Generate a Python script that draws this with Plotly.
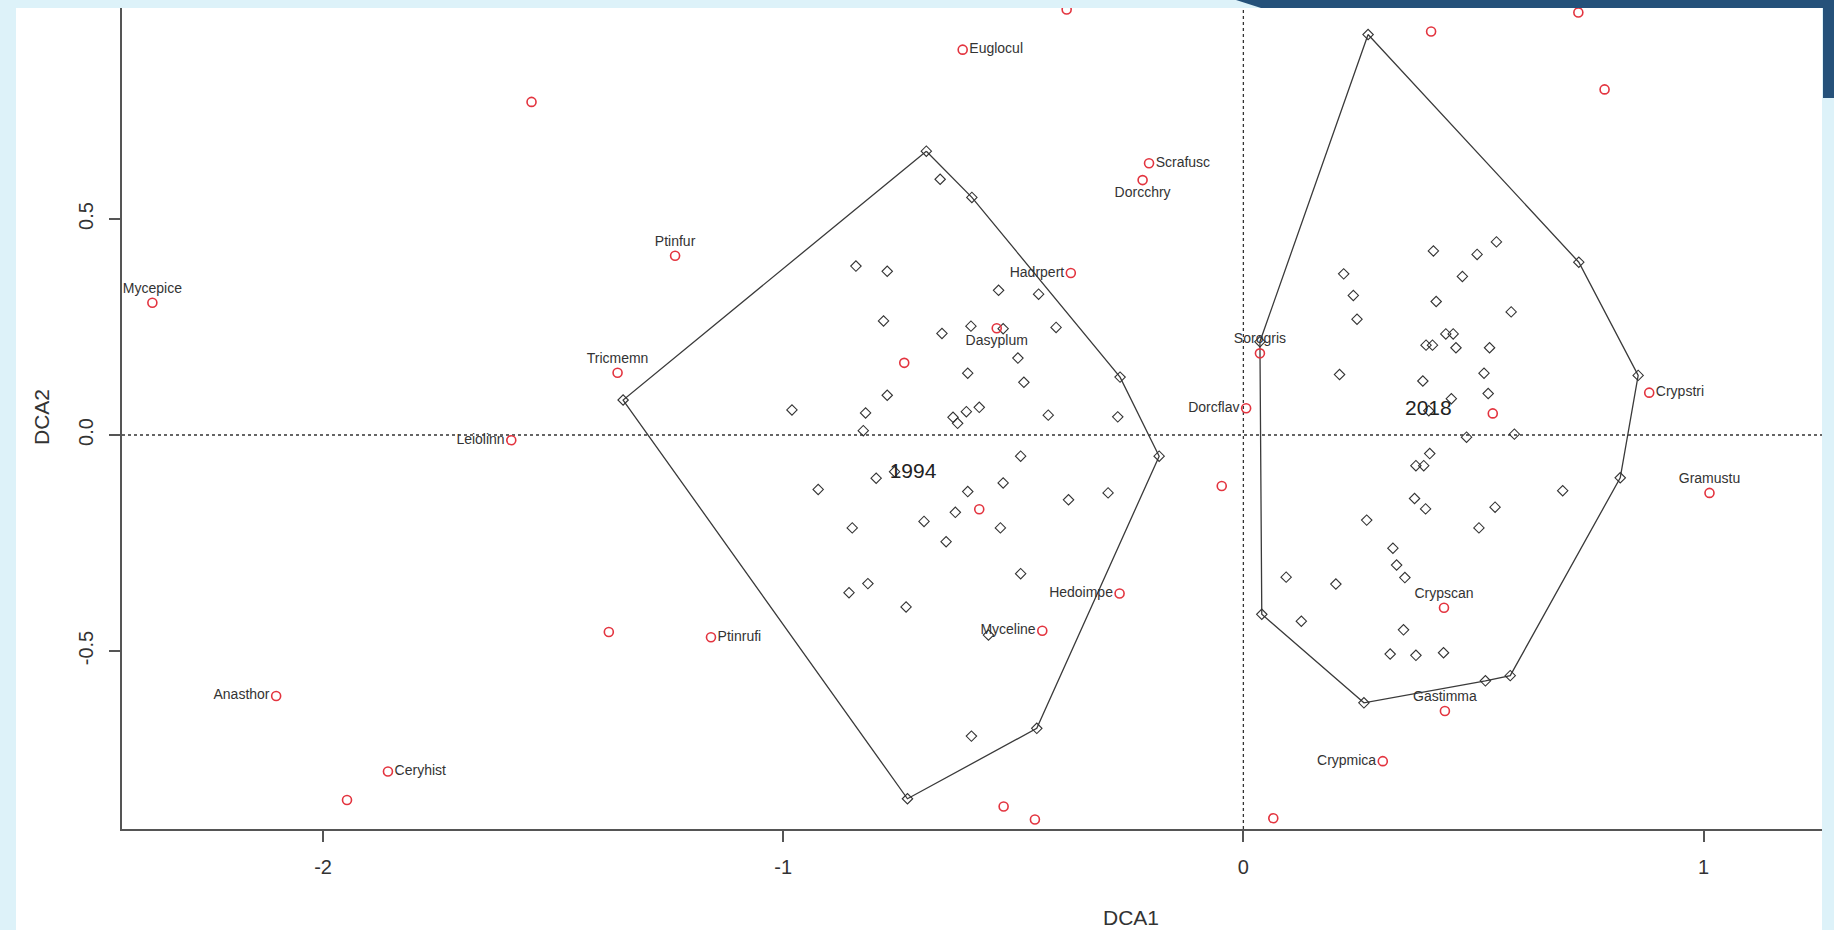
import plotly.graph_objects as go

# ---------------- data ----------------
# species scores (red open circles)
sp_names = ["Mycepice", "", "Tricmemn", "Leiolinn", "Ptinfur", "Euglocul", "", "Scrafusc",
            "Dorcchry", "Hadrpert", "Dasyplum", "", "", "Hedoimpe", "Myceline", "Ptinrufi",
            "", "", "", "Anasthor", "Ceryhist", "", "Sorogris", "Dorcflav", "", "Crypstri",
            "Gramustu", "", "Crypscan", "Gastimma", "Crypmica", "", "", "", "", ""]
sp_x = [-2.371, -1.547, -1.360, -1.591, -1.235, -0.610, -0.384, -0.205,
        -0.219, -0.375, -0.536, -0.737, -0.574, -0.269, -0.437, -1.157,
        -1.379, -0.521, -0.453, -2.102, -1.859, -1.948, 0.036, 0.006, 0.542, 0.882,
        1.013, -0.047, 0.436, 0.438, 0.303, 0.065, 0.411, 0.408, 0.728, 0.785]
sp_y = [0.306, 0.771, 0.144, -0.012, 0.415, 0.892, 0.985, 0.629,
        0.590, 0.375, 0.247, 0.167, -0.172, -0.367, -0.453, -0.468,
        -0.456, -0.860, -0.890, -0.604, -0.779, -0.845, 0.189, 0.062, 0.050, 0.098,
        -0.134, -0.118, -0.400, -0.639, -0.755, -0.887, -0.925, 0.934, 0.978, 0.800]
sp_pos = ["top center", "top center", "top center", "middle left", "top center", "middle right",
          "top center", "middle right", "bottom center", "middle left", "bottom center",
          "top center", "top center", "middle left", "middle left", "middle right",
          "top center", "top center", "top center", "middle left", "middle right", "top center",
          "top center", "middle left", "top center", "middle right", "top center", "top center",
          "top center", "top center", "middle left", "top center", "top center", "top center",
          "top center", "top center"]

# site scores 1994 (black open diamonds)
s94_x = [-0.689, -0.590, -0.268, -0.183, -0.449, -0.730, -1.348,
         -0.659, -0.842, -0.774, -0.532, -0.445, -0.782, -0.592, -0.655, -0.522, -0.407,
         -0.490, -0.599, -0.477, -0.774, -0.981, -0.821, -0.574, -0.602, -0.631, -0.621,
         -0.424, -0.273, -0.826, -0.484, -0.798, -0.758, -0.924, -0.599, -0.522, -0.380,
         -0.294, -0.626, -0.694, -0.850, -0.528, -0.646, -0.484, -0.816, -0.857, -0.733,
         -0.554, -0.591]
s94_y = [0.657, 0.550, 0.134, -0.049, -0.679, -0.842, 0.081,
         0.592, 0.391, 0.379, 0.335, 0.326, 0.264, 0.252, 0.235, 0.246, 0.249,
         0.178, 0.143, 0.122, 0.092, 0.058, 0.051, 0.064, 0.054, 0.041, 0.027,
         0.046, 0.042, 0.010, -0.049, -0.100, -0.085, -0.126, -0.131, -0.111, -0.150,
         -0.134, -0.179, -0.200, -0.215, -0.215, -0.247, -0.321, -0.344, -0.365, -0.398,
         -0.463, -0.697]

# site scores 2018
s18_x = [0.271, 0.729, 0.858, 0.819, 0.580, 0.526, 0.262, 0.040, 0.036,
         0.550, 0.413, 0.508, 0.218, 0.476, 0.239, 0.419, 0.582, 0.247, 0.440, 0.456,
         0.397, 0.411, 0.462, 0.535, 0.209, 0.523, 0.390, 0.532, 0.452, 0.403, 0.485,
         0.589, 0.405, 0.375, 0.392, 0.694, 0.372, 0.396, 0.547, 0.268, 0.512, 0.325,
         0.333, 0.351, 0.093, 0.201, 0.126, 0.348, 0.319, 0.375, 0.435]
s18_y = [0.927, 0.400, 0.138, -0.099, -0.557, -0.569, -0.620, -0.415, 0.216,
         0.447, 0.426, 0.418, 0.373, 0.367, 0.323, 0.309, 0.285, 0.268, 0.234, 0.234,
         0.208, 0.208, 0.202, 0.202, 0.140, 0.143, 0.125, 0.096, 0.084, 0.056, -0.005,
         0.002, -0.043, -0.071, -0.071, -0.129, -0.147, -0.171, -0.167, -0.197, -0.215, -0.262,
         -0.301, -0.330, -0.329, -0.345, -0.431, -0.451, -0.507, -0.510, -0.504]

# convex hulls
hull94_x = [-0.689, -0.590, -0.268, -0.183, -0.449, -0.730, -1.348, -0.689]
hull94_y = [0.657, 0.550, 0.134, -0.049, -0.679, -0.842, 0.081, 0.657]
hull18_x = [0.271, 0.729, 0.858, 0.819, 0.580, 0.526, 0.262, 0.040, 0.036, 0.271]
hull18_y = [0.927, 0.400, 0.138, -0.099, -0.557, -0.569, -0.620, -0.415, 0.216, 0.927]

group_names = ["1994", "2018"]
group_x = [-0.718, 0.402]
group_y = [-0.087, 0.059]

x_ticks = [-2, -1, 0, 1]
y_ticks = [-0.5, 0.0, 0.5]
y_tick_text = ["-0.5", "0.0", "0.5"]

# ---------------- layout constants (pixels) ----------------
W, H = 1834, 930
PL, PR, PT, PB = 122, 1822, 8, 829
FONT = "Liberation Sans, Arial, sans-serif"
CYAN = "#ddf2f9"
NAVY = "#25517a"
RED = "#e3343f"
DARK = "#333333"


def px(X):
    return (X - PL) / (PR - PL)


def py(Y):
    return (PB - Y) / (PB - PT)


fig = go.Figure()

# hulls
for hx, hy in [(hull94_x, hull94_y), (hull18_x, hull18_y)]:
    fig.add_trace(go.Scatter(x=hx, y=hy, mode="lines",
                             line=dict(color="#3a3a3a", width=1.3),
                             hoverinfo="skip", showlegend=False))

# sites
fig.add_trace(go.Scatter(x=s94_x + s18_x, y=s94_y + s18_y, mode="markers",
                         marker=dict(symbol="diamond-open", size=8, color=DARK,
                                     line=dict(color=DARK, width=1.1)),
                         showlegend=False))

# species
fig.add_trace(go.Scatter(x=sp_x, y=sp_y, mode="markers+text", text=sp_names,
                         textposition=sp_pos,
                         textfont=dict(family=FONT, size=14, color=DARK),
                         marker=dict(symbol="circle-open", size=9, color=RED,
                                     line=dict(color=RED, width=1.6)),
                         showlegend=False))

# group labels
fig.add_trace(go.Scatter(x=group_x, y=group_y, mode="text", text=group_names,
                         textposition="middle center",
                         textfont=dict(family=FONT, size=21, color="#222222"),
                         showlegend=False, hoverinfo="skip"))

shapes = [
    # white panel
    dict(type="rect", xref="paper", yref="paper", x0=px(16), x1=px(PR), y0=py(H), y1=py(PT),
         fillcolor="white", line=dict(width=0), layer="below"),
    # navy decoration top-right
    dict(type="path", xref="paper", yref="paper",
         path=f"M {px(1236)} {py(0)} L {px(W)} {py(0)} L {px(W)} {py(98)} L {px(1823)} {py(98)} "
              f"L {px(1823)} {py(8)} L {px(1261)} {py(8)} Z",
         fillcolor=NAVY, line=dict(width=0), layer="above"),
    # dotted reference lines
    dict(type="line", xref="x", yref="paper", x0=0, x1=0, y0=0, y1=1,
         line=dict(color=DARK, width=1.3, dash="dot"), layer="below"),
    dict(type="line", xref="paper", yref="y", x0=0, x1=1, y0=0, y1=0,
         line=dict(color=DARK, width=1.3, dash="dot"), layer="below"),
]

annotations = [
    dict(text="DCA1", xref="paper", yref="paper", x=px(1131), y=py(917),
         showarrow=False, font=dict(family=FONT, size=21, color=DARK),
         xanchor="center", yanchor="middle"),
    dict(text="DCA2", xref="paper", yref="paper", x=px(42), y=py(417),
         showarrow=False, textangle=-90, font=dict(family=FONT, size=21, color=DARK),
         xanchor="center", yanchor="middle"),
]

x_lo = -2.437
x_hi = 1.2575
y_lo = -0.912
y_hi = 0.9884

fig.update_layout(
    width=W, height=H, autosize=False,
    margin=dict(l=PL, r=W - PR, t=PT, b=H - PB, pad=0),
    paper_bgcolor=CYAN, plot_bgcolor="white",
    shapes=shapes, annotations=annotations,
    xaxis=dict(range=[x_lo, x_hi], tickvals=x_ticks, ticktext=[str(v) for v in x_ticks],
               showgrid=False, zeroline=False, showline=True, linecolor="#555555", linewidth=1.5,
               ticks="outside", ticklen=11, tickwidth=1.5, tickcolor="#555555",
               tickfont=dict(family=FONT, size=20, color=DARK), ticklabelstandoff=8),
    yaxis=dict(range=[y_lo, y_hi], tickvals=y_ticks, ticktext=y_tick_text, tickangle=-90,
               showgrid=False, zeroline=False, showline=True, linecolor="#555555", linewidth=1.5,
               ticks="outside", ticklen=11, tickwidth=1.5, tickcolor="#555555",
               tickfont=dict(family=FONT, size=20, color=DARK), ticklabelstandoff=8),
    hovermode="closest",
)

fig.write_html("out.html", config={"displayModeBar": False},
               post_script="document.body.style.margin='0px';document.body.style.padding='0px';")
